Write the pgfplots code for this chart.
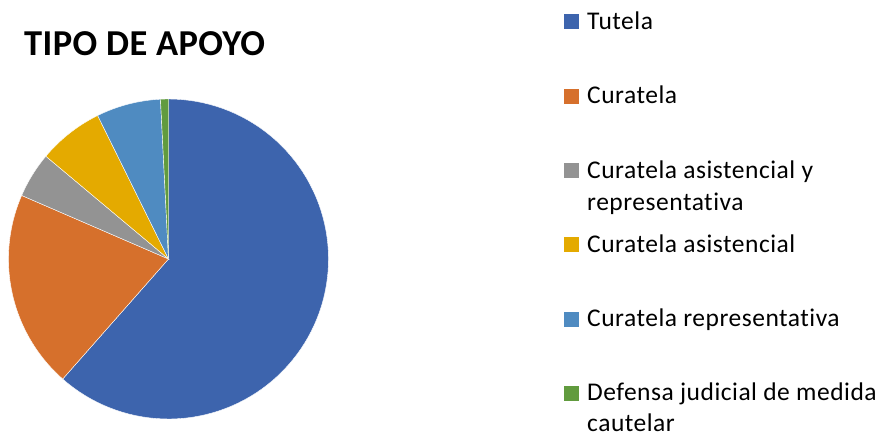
\documentclass[border=0pt]{standalone}
\usepackage{fontspec}
\setmainfont{Carlito}[Ligatures=NoCommon, LetterSpace=2.0]
\newfontfamily\titlefont{Carlito}[Ligatures=NoCommon, LetterSpace=1.2]
\usepackage{pgfplots}
\pgfplotsset{compat=1.18}
\usepackage{xcolor}
\definecolor{tutela}{HTML}{3D64AD}
\definecolor{curatela}{HTML}{D6702C}
\definecolor{cayr}{HTML}{939393}
\definecolor{casis}{HTML}{E4AA00}
\definecolor{crep}{HTML}{4F8BC1}
\definecolor{defensa}{HTML}{619B3E}

% share of each kind of support (percent)
\def\piedata{61.5/tutela,20.0/curatela,4.6/cayr,6.6/casis,6.5/crep,0.8/defensa}

\newcommand\legfont{\fontsize{25.5}{32}\selectfont}

\begin{document}
\begin{tikzpicture}[x=1pt,y=1pt]
  \useasboundingbox (0,0) rectangle (880,434);
  \begin{axis}[
    at={(168.5pt,175pt)}, anchor=center,
    scale only axis, width=320pt, height=320pt,
    xmin=-1, xmax=1, ymin=-1, ymax=1,
    hide axis, clip=false,
  ]
    \xdef\cum{0}
    \foreach \v/\c in \piedata {
      \pgfmathsetmacro\a{90-3.6*\cum}
      \pgfmathsetmacro\b{90-3.6*(\cum+\v)}
      \pgfmathsetmacro\n{\cum+\v}
      \xdef\cum{\n}
      \edef\temp{\noexpand\addplot[fill=\c, draw=white, line width=0.4pt,
        domain=\b:\a, samples=90] ({cos(x)},{sin(x)}) -- (axis cs:0,0) -- cycle;}
      \temp
    }
  \end{axis}
  % title
  \node[anchor=base west, inner sep=0pt,
    font=\titlefont\bfseries\fontsize{36.5}{40}\selectfont] at (24,434-56) {TIPO DE APOYO};
  % legend
  \foreach \y/\c in {29.5/tutela,104/curatela,178.5/cayr,252/casis,326.5/crep,400.5/defensa}
    \fill[\c] (564,434-\y) rectangle (579,434-\y+15);
  \begin{scope}[every node/.style={anchor=base west, inner sep=0pt, font=\legfont, text=black}]
    \node at (587,434-29.5) {Tutela};
    \node at (587,434-104) {Curatela};
    \node at (587,434-178.5) {Curatela asistencial y};
    \node at (587,434-211) {representativa};
    \node at (587,434-252) {Curatela asistencial};
    \node at (587,434-326.5) {Curatela representativa};
    \node at (587,434-400.5) {Defensa judicial de medida};
    \node at (587,434-431.5) {cautelar};
  \end{scope}
\end{tikzpicture}
\end{document}
